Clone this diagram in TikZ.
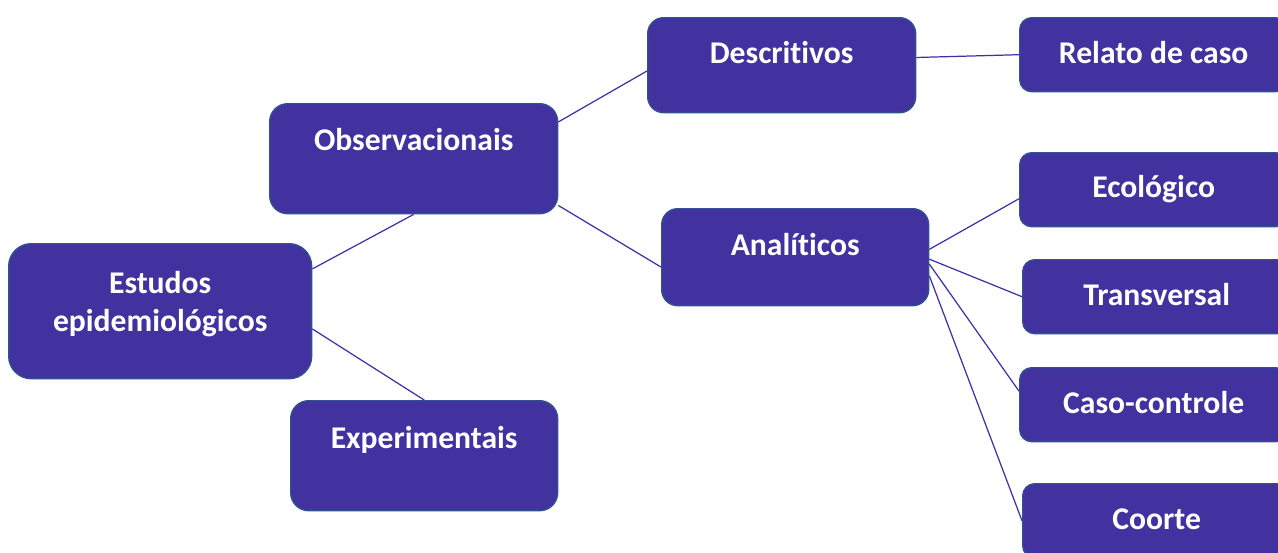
\documentclass[tikz,border=0pt]{standalone}
\usepackage{fontspec}
\setmainfont{Carlito}[Ligatures=NoCommon]
\usetikzlibrary{calc}
\definecolor{boxfill}{HTML}{4232A0}
\definecolor{boxedge}{HTML}{30508F}
\definecolor{linkcol}{HTML}{4030A8}
\begin{document}
\begin{tikzpicture}[x=0.02cm,y=-0.02cm]
        % Define styles
        \tikzset{
            box/.style={draw=boxedge, line width=0.8pt, fill=boxfill, text=white,
                font=\fontsize{18}{21.6}\selectfont\bfseries, inner sep=0pt,
                anchor=north west, align=center},
            leaf/.style={box, minimum width=5.36cm, text height=0.92cm, text depth=0.56cm, rounded corners=0.24cm},
            link/.style={draw=linkcol, line width=0.7pt}
        }
        % Page frame
        \useasboundingbox (0,0) rectangle (1278,552);
        \clip (0,0) rectangle (1278,552);
        % Left column
        \node[box, minimum width=6.06cm, text height=1.76cm, text depth=0.94cm, rounded corners=0.45cm] (est) at (8,243) {Estudos\\epidemiológicos};
        % Middle column
        \node[box, minimum width=5.76cm, text height=0.94cm, text depth=1.26cm, rounded corners=0.36cm] (obs) at (269,103) {Observacionais};
        \node[box, minimum width=5.34cm, text height=0.96cm, text depth=1.24cm, rounded corners=0.36cm] (exper) at (290,400) {Experimentais};
        \node[box, minimum width=5.36cm, text height=0.92cm, text depth=0.98cm, rounded corners=0.32cm] (desc) at (647,17) {Descritivos};
        \node[box, minimum width=5.34cm, text height=0.94cm, text depth=1.0cm, rounded corners=0.32cm] (ana) at (661,208) {Analíticos};
        % Right column
        \node[leaf] (relato) at (1019,17) {Relato de caso};
        \node[leaf, text height=0.9cm, text depth=0.58cm] (eco) at (1019,152) {Ecológico};
        \node[leaf] (trans) at (1022,259) {Transversal};
        \node[leaf] (caso) at (1019,367) {Caso-controle};
        \node[leaf] (coorte) at (1022,483) {Coorte};
        % Links
        \draw[link] ($(est.north east)!0.19!(est.south east)$) -- (obs.south);
        \draw[link] ($(est.north east)!0.63!(est.south east)$) -- (exper.north);
        \draw[link] ($(obs.north east)!0.17!(obs.south east)$) -- ($(desc.north west)!0.56!(desc.south west)$);
        \draw[link] ($(obs.north east)!0.92!(obs.south east)$) -- ($(ana.north west)!0.6!(ana.south west)$);
        \draw[link] ($(desc.north east)!0.42!(desc.south east)$) -- (relato.west);
        \draw[link] ($(ana.north east)!0.42!(ana.south east)$) -- ($(eco.north west)!0.62!(eco.south west)$);
        \draw[link] ($(ana.north east)!0.52!(ana.south east)$) -- (trans.west);
        \draw[link] ($(ana.north east)!0.57!(ana.south east)$) -- ($(caso.north west)!0.32!(caso.south west)$);
        \draw[link] ($(ana.north east)!0.69!(ana.south east)$) -- (coorte.west);
\end{tikzpicture}
\end{document}
